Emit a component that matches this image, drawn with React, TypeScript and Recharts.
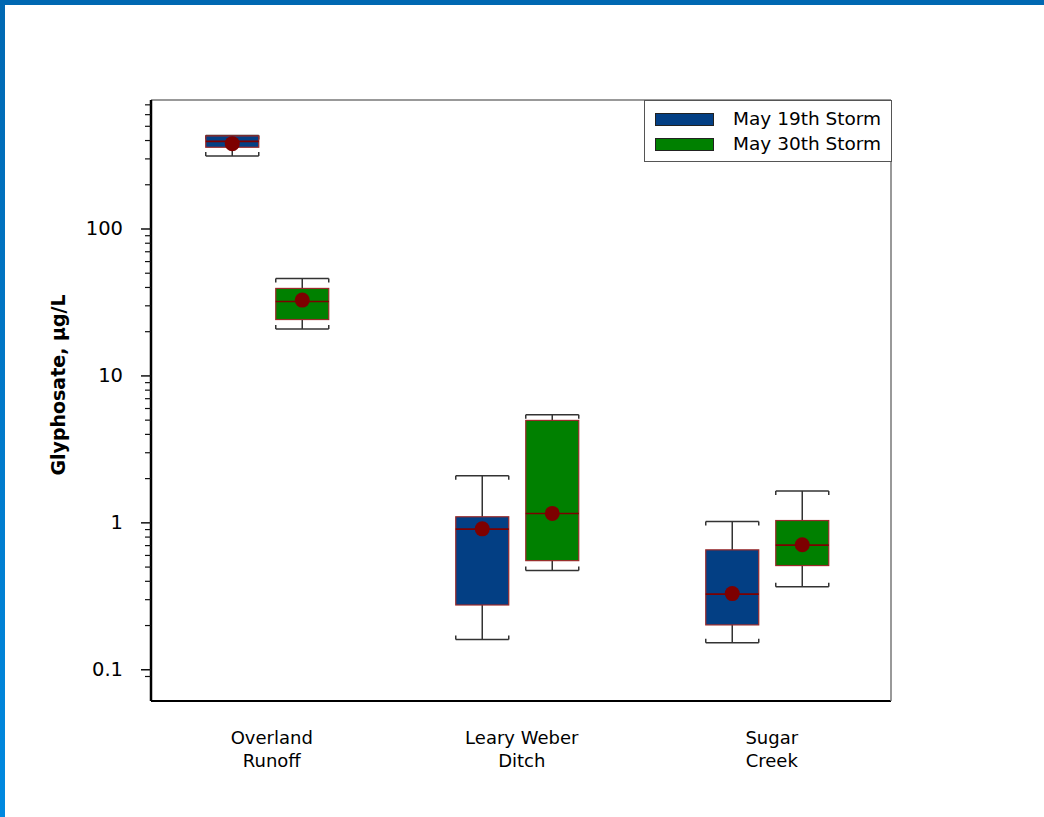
import { ComposedChart, Bar, XAxis, YAxis } from "recharts";

// Site names (line break splits the axis label)
const CATEGORIES = ["Overland\nRunoff", "Leary Weber\nDitch", "Sugar\nCreek"];

// May 19th storm, glyphosate µg/L
const may19Low = [314, 0.161, 0.153];
const may19Q1 = [360, 0.276, 0.202];
const may19Median = [395, 0.906, 0.327];
const may19Q3 = [430, 1.1, 0.655];
const may19High = [433, 2.09, 1.02];
const may19Mean = [381, 0.91, 0.33];

// May 30th storm, glyphosate µg/L
const may30Low = [20.9, 0.473, 0.368];
const may30Q1 = [24.2, 0.553, 0.512];
const may30Median = [32.1, 1.157, 0.705];
const may30Q3 = [39.4, 4.98, 1.037];
const may30High = [46.0, 5.45, 1.65];
const may30Mean = [32.8, 1.16, 0.71];

const SERIES = [
  { key: "s19", name: "May 19th Storm", color: "#033f84" },
  { key: "s30", name: "May 30th Storm", color: "#008000" },
];

const MAJOR_TICKS = [0.1, 1, 10, 100];
const MINOR_TICKS = [
  0.09, 0.2, 0.3, 0.4, 0.5, 0.6, 0.7, 0.8, 0.9,
  2, 3, 4, 5, 6, 7, 8, 9,
  20, 30, 40, 50, 60, 70, 80, 90,
  200, 300, 400, 500, 600, 700,
];

const Y_DOMAIN = [0.0613, 755];
const X_DOMAIN = [-0.463, 2.497];

const data = CATEGORIES.map((name, i) => ({
  pos: i,
  name,
  s19Whisker: [may19Low[i], may19High[i]],
  s19Box: [may19Q1[i], may19Q3[i]],
  s19Median: [may19Median[i], may19Median[i]],
  s19Mean: [may19Mean[i], may19Mean[i]],
  s30Whisker: [may30Low[i], may30High[i]],
  s30Box: [may30Q1[i], may30Q3[i]],
  s30Median: [may30Median[i], may30Median[i]],
  s30Mean: [may30Mean[i], may30Mean[i]],
}));

const FONT = "'DejaVu Sans', sans-serif";
const DARK_RED = "#7d0000";

const WhiskerShape = (props: any) => {
  const { x, y, width, height } = props;
  const cx = x + width / 2;
  return (
    <g stroke="#333" strokeWidth={1.5} fill="none">
      <line x1={cx} x2={cx} y1={y} y2={y + height} />
      <line x1={x} x2={x + width} y1={y} y2={y} />
      <line x1={x} x2={x + width} y1={y + height} y2={y + height} />
      <line x1={x} x2={x} y1={y} y2={y + 4} />
      <line x1={x + width} x2={x + width} y1={y} y2={y + 4} />
      <line x1={x} x2={x} y1={y + height} y2={y + height - 4} />
      <line x1={x + width} x2={x + width} y1={y + height} y2={y + height - 4} />
    </g>
  );
};

const BoxShape = (props: any) => {
  const { x, y, width, height, fill } = props;
  return <rect x={x} y={y} width={width} height={height} fill={fill} stroke="#9b2a2a" strokeWidth={1.2} />;
};

const MedianShape = (props: any) => {
  const { x, y, width } = props;
  return <line x1={x} x2={x + width} y1={y} y2={y} stroke={DARK_RED} strokeWidth={1.6} />;
};

const MeanShape = (props: any) => {
  const { x, y, width } = props;
  return <circle cx={x + width / 2} cy={y} r={7.5} fill={DARK_RED} />;
};

const YTick = (props: any) => {
  const { x, y, payload } = props;
  const major = MAJOR_TICKS.includes(payload.value);
  return (
    <g>
      <line x1={x} x2={x - (major ? 10 : 6)} y1={y} y2={y} stroke="#111" strokeWidth={major ? 1.5 : 1.2} />
      {major && (
        <text x={x - 28} y={y} dy={6.5} textAnchor="end" fontFamily={FONT} fontSize={19.5} fill="#000">
          {String(payload.value)}
        </text>
      )}
    </g>
  );
};

// category labels sit a little right of the box pairs
const XTick = (props: any) => {
  const { x, y, payload } = props;
  const lines = (CATEGORIES[payload.value] ?? "").split("\n");
  const cx = x + 5;
  return (
    <text x={cx} y={y} textAnchor="middle" fontFamily={FONT} fontSize={18} fill="#000">
      {lines.map((line, i) => (
        <tspan key={i} x={cx} y={y + 43 + i * 23}>
          {line}
        </tspan>
      ))}
    </text>
  );
};

const xAxisBase = {
  type: "number" as const,
  dataKey: "pos",
  domain: X_DOMAIN,
  ticks: [0, 1, 2],
  allowDataOverflow: true,
};

const yAxisBase = {
  scale: "log" as const,
  domain: Y_DOMAIN,
  allowDataOverflow: true,
};

const Legend = () => (
  <div
    style={{
      position: "absolute",
      left: 644,
      top: 100,
      width: 246,
      height: 60,
      border: "1px solid #555",
      background: "#fff",
      fontFamily: FONT,
      fontSize: 18.5,
      color: "#000",
    }}
  >
    {SERIES.map((s, i) => (
      <div key={s.key}>
        <div
          style={{
            position: "absolute",
            left: 10,
            top: 12 + i * 25,
            width: 57,
            height: 11,
            background: s.color,
            border: "1px solid #222",
          }}
        />
        <div style={{ position: "absolute", left: 88, top: 6 + i * 25, lineHeight: "24px", whiteSpace: "nowrap" }}>
          {s.name}
        </div>
      </div>
    ))}
  </div>
);

export default function App() {
  return (
    <div style={{ position: "absolute", left: 0, top: 0, width: 1044, height: 817, background: "#fff", overflow: "hidden" }}>
      <div style={{ position: "absolute", left: 0, top: 0, width: 1044, height: 5, background: "#0068b2" }} />
      <div
        style={{
          position: "absolute",
          left: 0,
          top: 0,
          width: 5,
          height: 817,
          background: "linear-gradient(#0068b2, #0089e0)",
        }}
      />
      <ComposedChart
        width={1044}
        height={817}
        data={data}
        barGap={17}
        margin={{ top: 99, right: 152, left: 91, bottom: 56 }}
        style={{ position: "absolute", left: 0, top: 0 }}
      >
        <XAxis {...xAxisBase} xAxisId="whisker" hide />
        <XAxis {...xAxisBase} xAxisId="median" hide />
        <XAxis {...xAxisBase} xAxisId="mean" hide />
        <XAxis
          {...xAxisBase}
          xAxisId="box"
          height={60}
          interval={0}
          tickLine={false}
          tickSize={0}
          tickMargin={0}
          axisLine={{ stroke: "#000", strokeWidth: 2 }}
          tick={<XTick />}
        />
        <XAxis
          {...xAxisBase}
          xAxisId="top"
          orientation="top"
          height={1}
          tick={false}
          tickLine={false}
          axisLine={{ stroke: "#777", strokeWidth: 1.5 }}
        />
        <YAxis
          {...yAxisBase}
          yAxisId="left"
          width={60}
          ticks={[...MAJOR_TICKS, ...MINOR_TICKS]}
          interval={0}
          tickLine={false}
          tickSize={0}
          tickMargin={0}
          axisLine={{ stroke: "#000", strokeWidth: 2.5 }}
          tick={<YTick />}
        />
        <YAxis
          {...yAxisBase}
          yAxisId="right"
          orientation="right"
          width={1}
          tick={false}
          tickLine={false}
          axisLine={{ stroke: "#777", strokeWidth: 1.5 }}
        />

        {SERIES.map((s) => (
          <Bar key={s.key + "w"} xAxisId="whisker" yAxisId="left" dataKey={s.key + "Whisker"} barSize={53} fill={s.color} shape={<WhiskerShape />} isAnimationActive={false} />
        ))}
        {SERIES.map((s) => (
          <Bar key={s.key + "b"} xAxisId="box" yAxisId="left" dataKey={s.key + "Box"} name={s.name} barSize={53} fill={s.color} shape={<BoxShape />} isAnimationActive={false} />
        ))}
        {SERIES.map((s) => (
          <Bar key={s.key + "m"} xAxisId="median" yAxisId="left" dataKey={s.key + "Median"} barSize={53} fill={s.color} shape={<MedianShape />} isAnimationActive={false} />
        ))}
        {SERIES.map((s) => (
          <Bar key={s.key + "a"} xAxisId="mean" yAxisId="left" dataKey={s.key + "Mean"} barSize={53} fill={s.color} shape={<MeanShape />} isAnimationActive={false} />
        ))}
      </ComposedChart>
      <Legend />
      <div
        style={{
          position: "absolute",
          left: 58,
          top: 385,
          transform: "translate(-50%, -50%) rotate(-90deg)",
          fontFamily: FONT,
          fontWeight: "bold",
          fontSize: 19,
          whiteSpace: "nowrap",
          color: "#000",
        }}
      >
        Glyphosate, µg/L
      </div>
    </div>
  );
}
